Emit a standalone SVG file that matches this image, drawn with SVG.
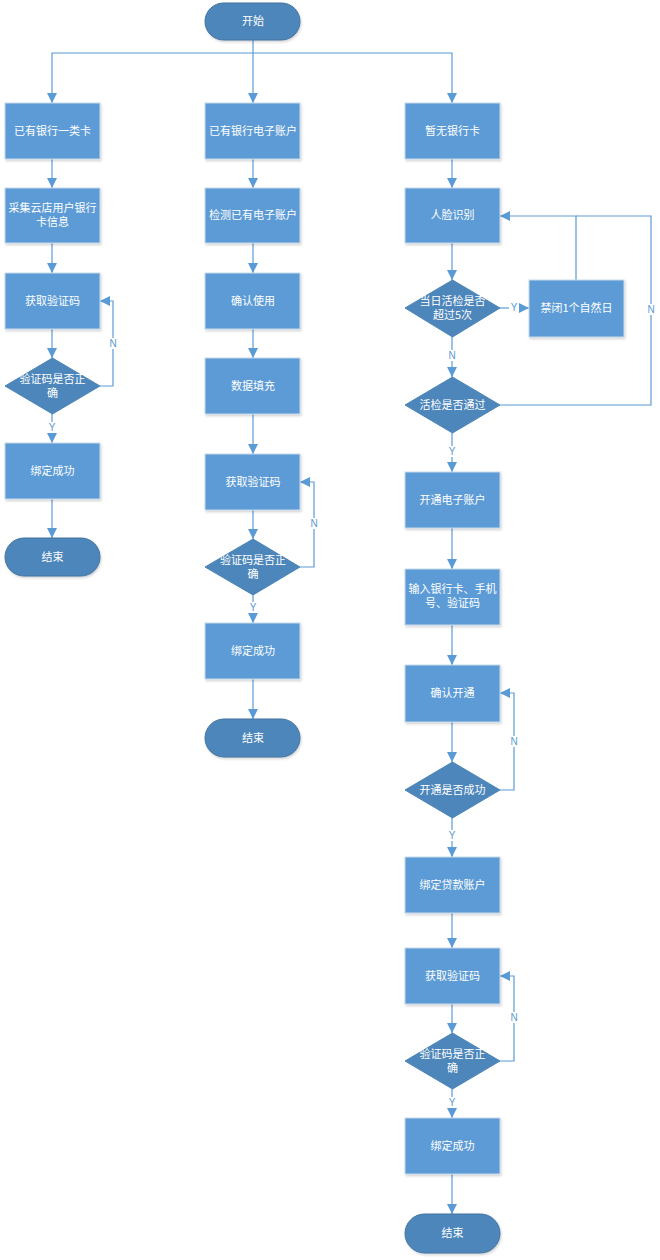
<svg xmlns="http://www.w3.org/2000/svg" width="660" height="1260" viewBox="0 0 660 1260">
<style>
.box{fill:#5B9BD5;stroke:#C9D9EC;stroke-width:1;filter:url(#sh)}
.dec{fill:#4D86BA;stroke:#4D86BA;stroke-width:1}
.term{fill:#4D86BA;stroke:#41729F;stroke-width:1;filter:url(#sh)}
.t{font-family:"Noto Sans CJK SC",sans-serif;font-size:11px;fill:#FFFFFF;text-anchor:middle}
.ln{fill:none;stroke:#5B9BD5;stroke-width:1.2}
.ar{marker-end:url(#ah)}
.lb{font-family:"Liberation Sans",Arial,sans-serif;font-size:10px;fill:#5B9BD5;text-anchor:middle}
.lbg{fill:#FFFFFF}
</style>
<defs>
<marker id="ah" markerUnits="userSpaceOnUse" markerWidth="12" markerHeight="12" viewBox="0 0 12 12" refX="10" refY="6" orient="auto">
<path d="M0,1 L10,6 L0,11 Z" fill="#5B9BD5"/>
</marker>
<filter id="sh" x="-10%" y="-10%" width="130%" height="130%">
<feDropShadow dx="1" dy="1.5" stdDeviation="1.2" flood-color="#000000" flood-opacity="0.18"/>
</filter>
</defs>
<rect width="660" height="1260" fill="#FFFFFF"/>

<g id="connectors">
<path class="ln ar" d="M253 40 V103"/>
<path class="ln ar" d="M253 53 H52 V103"/>
<path class="ln ar" d="M253 53 H452 V103"/>
<!-- left -->
<path class="ln ar" d="M52 159 V188"/>
<path class="ln ar" d="M52 243 V273"/>
<path class="ln ar" d="M52 329 V358"/>
<path class="ln ar" d="M52 414 V443"/>
<path class="ln ar" d="M52 499 V538"/>
<path class="ln ar" d="M100 386 H113 V301 H100"/>
<!-- middle -->
<path class="ln ar" d="M253 159 V188"/>
<path class="ln ar" d="M253 243 V273"/>
<path class="ln ar" d="M253 329 V358"/>
<path class="ln ar" d="M253 414 V454"/>
<path class="ln ar" d="M253 510 V539"/>
<path class="ln ar" d="M253 595 V623"/>
<path class="ln ar" d="M253 679 V719"/>
<path class="ln ar" d="M300 567 H314 V482 H300"/>
<!-- right -->
<path class="ln ar" d="M452 159 V188"/>
<path class="ln ar" d="M452 243 V280"/>
<path class="ln ar" d="M500 308 H529"/>
<path class="ln ar" d="M452 337 V377"/>
<path class="ln ar" d="M576 280 V216 H500"/>
<path class="ln" d="M500 405 H651 V216 H576"/>
<path class="ln ar" d="M452 433 V472"/>
<path class="ln ar" d="M452 528 V569"/>
<path class="ln ar" d="M452 625 V665"/>
<path class="ln ar" d="M452 722 V762"/>
<path class="ln ar" d="M500 790 H514 V693 H500"/>
<path class="ln ar" d="M452 818 V857"/>
<path class="ln ar" d="M452 913 V948"/>
<path class="ln ar" d="M452 1004 V1033"/>
<path class="ln ar" d="M500 1061 H514 V976 H500"/>
<path class="ln ar" d="M452 1089 V1118"/>
<path class="ln ar" d="M452 1174 V1214"/>
<!-- labels -->
<rect class="lbg" x="47" y="422" width="10" height="11"/><text class="lb" x="52" y="431">Y</text>
<rect class="lbg" x="108" y="338" width="10" height="11"/><text class="lb" x="113" y="347">N</text>
<rect class="lbg" x="248" y="602" width="10" height="11"/><text class="lb" x="253" y="611">Y</text>
<rect class="lbg" x="309" y="518" width="10" height="11"/><text class="lb" x="314" y="527">N</text>
<rect class="lbg" x="509" y="302" width="10" height="11"/><text class="lb" x="514" y="311">Y</text>
<rect class="lbg" x="447" y="350" width="10" height="11"/><text class="lb" x="452" y="359">N</text>
<rect class="lbg" x="646" y="304" width="10" height="11"/><text class="lb" x="651" y="313">N</text>
<rect class="lbg" x="447" y="446" width="10" height="11"/><text class="lb" x="452" y="455">Y</text>
<rect class="lbg" x="509" y="736" width="10" height="11"/><text class="lb" x="514" y="745">N</text>
<rect class="lbg" x="447" y="830" width="10" height="11"/><text class="lb" x="452" y="839">Y</text>
<rect class="lbg" x="509" y="1012" width="10" height="11"/><text class="lb" x="514" y="1021">N</text>
<rect class="lbg" x="447" y="1097" width="10" height="11"/><text class="lb" x="452" y="1106">Y</text>
</g>

<g id="start"><rect class="term" x="205" y="3" width="95" height="37" rx="18.5"/><text class="t" x="253" y="25">开始</text></g>

<!-- left column -->
<g id="l1"><rect class="box" x="5" y="103" width="95" height="56"/><text class="t" x="52.5" y="135">已有银行一类卡</text></g>
<g id="l2"><rect class="box" x="5" y="188" width="95" height="55"/><text class="t" x="52.5" y="212">采集云店用户银行</text><text class="t" x="52.5" y="226">卡信息</text></g>
<g id="l3"><rect class="box" x="5" y="273" width="95" height="56"/><text class="t" x="52.5" y="305">获取验证码</text></g>
<g id="l4"><path class="dec" d="M52.5 358 L100 386 L52.5 414 L5 386 Z"/><text class="t" x="52.5" y="383">验证码是否正</text><text class="t" x="52.5" y="397">确</text></g>
<g id="l5"><rect class="box" x="5" y="443" width="95" height="56"/><text class="t" x="52.5" y="475">绑定成功</text></g>
<g id="l6"><rect class="term" x="5" y="538" width="95" height="38" rx="19"/><text class="t" x="52.5" y="561">结束</text></g>

<!-- middle column -->
<g id="m1"><rect class="box" x="205" y="103" width="95" height="56"/><text class="t" x="253" y="135">已有银行电子账户</text></g>
<g id="m2"><rect class="box" x="205" y="188" width="95" height="55"/><text class="t" x="253" y="219">检测已有电子账户</text></g>
<g id="m3"><rect class="box" x="205" y="273" width="95" height="56"/><text class="t" x="253" y="305">确认使用</text></g>
<g id="m4"><rect class="box" x="205" y="358" width="95" height="56"/><text class="t" x="253" y="390">数据填充</text></g>
<g id="m5"><rect class="box" x="205" y="454" width="95" height="56"/><text class="t" x="253" y="486">获取验证码</text></g>
<g id="m6"><path class="dec" d="M253 539 L300 567 L253 595 L205 567 Z"/><text class="t" x="253" y="564">验证码是否正</text><text class="t" x="253" y="578">确</text></g>
<g id="m7"><rect class="box" x="205" y="623" width="95" height="56"/><text class="t" x="253" y="655">绑定成功</text></g>
<g id="m8"><rect class="term" x="205" y="719" width="95" height="38" rx="19"/><text class="t" x="253" y="742">结束</text></g>

<!-- right column -->
<g id="r1"><rect class="box" x="405" y="103" width="95" height="56"/><text class="t" x="452.5" y="135">暂无银行卡</text></g>
<g id="r2"><rect class="box" x="405" y="188" width="95" height="55"/><text class="t" x="452.5" y="219">人脸识别</text></g>
<g id="r3"><path class="dec" d="M452.5 280 L500 308 L452.5 337 L405 308 Z"/><text class="t" x="452.5" y="305">当日活检是否</text><text class="t" x="452.5" y="319">超过5次</text></g>
<g id="r3b"><rect class="box" x="529" y="280" width="95" height="57"/><text class="t" x="576.5" y="312">禁闭1个自然日</text></g>
<g id="r4"><path class="dec" d="M452.5 377 L500 405 L452.5 433 L405 405 Z"/><text class="t" x="452.5" y="409">活检是否通过</text></g>
<g id="r5"><rect class="box" x="405" y="472" width="95" height="56"/><text class="t" x="452.5" y="504">开通电子账户</text></g>
<g id="r6"><rect class="box" x="405" y="569" width="95" height="56"/><text class="t" x="452.5" y="593">输入银行卡、手机</text><text class="t" x="452.5" y="607">号、验证码</text></g>
<g id="r7"><rect class="box" x="405" y="665" width="95" height="57"/><text class="t" x="452.5" y="697">确认开通</text></g>
<g id="r8"><path class="dec" d="M452.5 762 L500 790 L452.5 818 L405 790 Z"/><text class="t" x="452.5" y="794">开通是否成功</text></g>
<g id="r9"><rect class="box" x="405" y="857" width="95" height="56"/><text class="t" x="452.5" y="889">绑定贷款账户</text></g>
<g id="r10"><rect class="box" x="405" y="948" width="95" height="56"/><text class="t" x="452.5" y="980">获取验证码</text></g>
<g id="r11"><path class="dec" d="M452.5 1033 L500 1061 L452.5 1089 L405 1061 Z"/><text class="t" x="452.5" y="1058">验证码是否正</text><text class="t" x="452.5" y="1072">确</text></g>
<g id="r12"><rect class="box" x="405" y="1118" width="95" height="56"/><text class="t" x="452.5" y="1150">绑定成功</text></g>
<g id="r13"><rect class="term" x="405" y="1214" width="95" height="39" rx="19.5"/><text class="t" x="452.5" y="1237">结束</text></g>
</svg>
